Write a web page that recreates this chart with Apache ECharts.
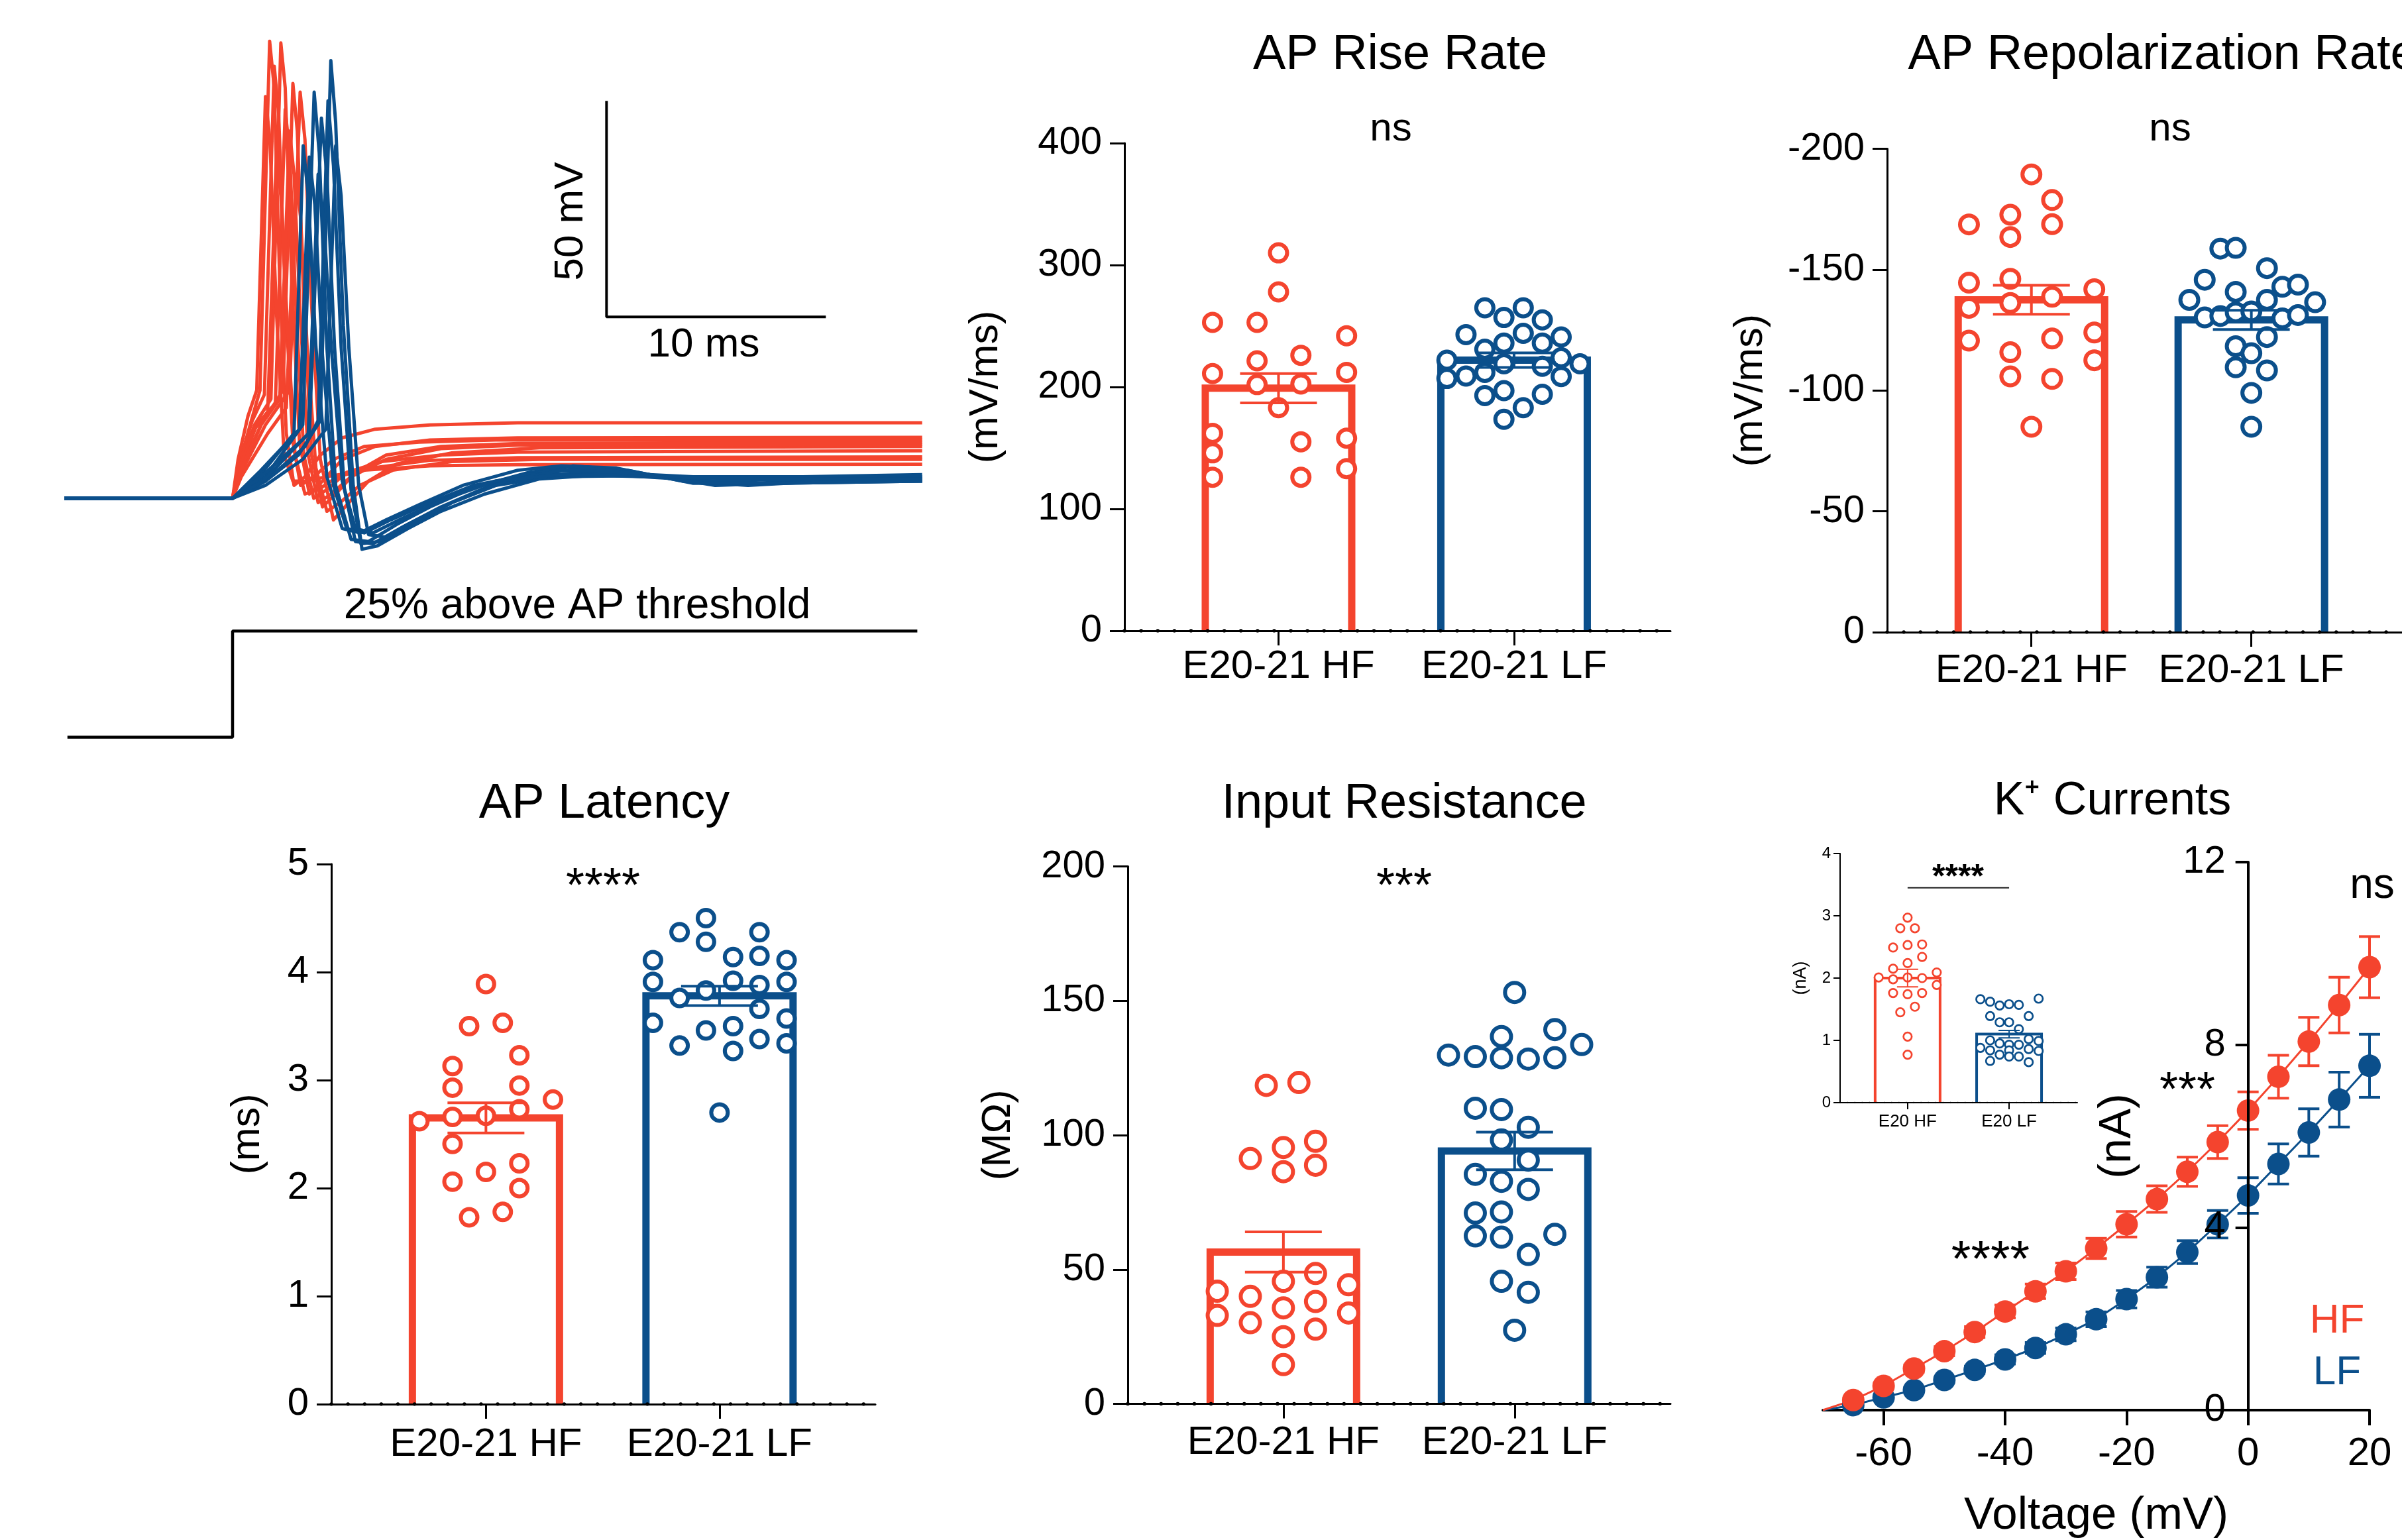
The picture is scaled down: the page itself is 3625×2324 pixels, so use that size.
<!DOCTYPE html>
<html><head><meta charset="utf-8">
<script src="https://cdn.jsdelivr.net/npm/echarts@6/dist/echarts.min.js"></script>
<style>html,body{margin:0;padding:0;background:#fff}#c{width:3625px;height:2324px}</style>
</head><body><div id="c"></div>
<script>
// ---------------- DATA ----------------
const categories = ['E20-21 HF', 'E20-21 LF'];
const insetCategories = ['E20 HF', 'E20 LF'];

// AP Rise Rate (mV/ms); *X = horizontal jitter of each dot within its column
const riseHF  = [310,278,253,253,242,221.5,226,211,212,202,202.5,183,162,146,126,155,158,133,126];
const riseHFX = [0,0,-0.28,-0.091,0.289,-0.091,0.095,-0.28,0.289,-0.091,0.095,0,-0.28,-0.28,-0.28,0.095,0.289,0.289,0.095];
const riseLF  = [265,265,257,255,243,244,241,236,236,231,222,219,224,219,217,209,212,207,208.6,197,193,194,183,173.5];
const riseLFX = [-0.124,0.039,-0.043,0.12,-0.204,0.039,0.2,-0.043,0.12,-0.124,-0.285,-0.043,0.2,0.28,0.12,-0.204,-0.124,-0.285,0.2,-0.043,-0.124,0.12,0.039,-0.043];
const riseMean = [199, 222];
const riseSem  = [12, 6];

// AP Repolarization Rate (mV/ms)
const repHF  = [-189.4,-178.8,-168.7,-172.7,-168.8,-163.5,-144.6,-146.2,-141.9,-138.8,-134.2,-136.2,-120.6,-121.5,-124.0,-115.8,-112.5,-105.8,-104.8,-85.0];
const repHFX = [0,0.094,-0.284,-0.096,0.094,-0.096,-0.284,-0.096,0.286,0.094,-0.284,-0.096,-0.284,0.094,0.286,-0.096,0.286,-0.096,0.094,0];
const repLF  = [-158.7,-159.0,-150.6,-145.8,-142.9,-143.8,-140.8,-137.5,-137.5,-136.5,-130.2,-130.8,-132.3,-132.7,-129.8,-131.2,-122.1,-118.3,-115.4,-109.6,-108.3,-99.0,-85.0];
const repLFX = [-0.141,-0.071,0.071,-0.212,0.141,0.212,-0.071,-0.282,0.071,0.29,-0.212,-0.141,-0.071,0,0.141,0.212,0.071,-0.071,0,-0.071,0.071,0,0];
const repMean = [-137.5, -129.2];
const repSem  = [6, 4];

// AP Latency (ms)
const latHF  = [3.89,3.50,3.53,3.23,3.13,2.93,2.95,2.82,2.62,2.66,2.67,2.73,2.41,2.23,2.15,2.06,2.00,1.73,1.78];
const latHFX = [0,-0.072,0.072,0.143,-0.143,-0.143,0.143,0.287,-0.285,-0.143,0,0.143,-0.143,0.143,0,-0.143,0.143,-0.072,0.072];
const latLF  = [4.50,4.37,4.37,4.28,4.11,4.14,4.15,4.11,3.91,3.92,3.88,3.91,3.76,3.83,3.66,3.53,3.57,3.46,3.50,3.38,3.32,3.34,3.27,2.70];
const latLFX = [-0.058,-0.171,0.171,-0.058,-0.285,0.058,0.171,0.287,-0.285,0.058,0.171,0.287,-0.171,-0.058,0.171,-0.285,0.287,-0.058,0.058,0.171,-0.171,0.287,0.058,0];
const latMean = [2.65, 3.78];
const latSem  = [0.14, 0.09];

// Input Resistance (MOhm)
const resHF  = [118.5,119.6,91.3,95.4,97.7,86.4,88.8,41.9,40.0,45.6,48.5,44.3,32.9,30.2,35.7,38.1,33.8,25.0,27.8,14.6];
const resHFX = [-0.074,0.067,-0.143,0,0.139,0,0.139,-0.286,-0.143,0,0.139,0.282,-0.286,-0.143,0,0.139,0.282,0,0.139,0];
const resLF  = [153.1,136.7,139.3,133.7,129.8,129.2,128.8,128.3,128.8,110.0,109.5,102.9,98.2,90.7,85.4,82.8,79.8,71.0,71.4,62.5,62.0,63.1,55.6,45.6,41.5,27.4];
const resLFX = [0,-0.057,0.174,0.29,-0.286,-0.17,-0.057,0.059,0.174,-0.17,-0.057,0.059,-0.057,0.059,-0.17,-0.057,0.059,-0.17,-0.057,-0.17,-0.057,0.174,0.059,-0.057,0.059,0];
const resMean = [56.5, 94.1];
const resSem  = [7.5, 7];

// K+ currents I-V (nA)
const kVolt  = [-65,-60,-55,-50,-45,-40,-35,-30,-25,-20,-15,-10,-5,0,5,10,15,20];
const kHF    = [0.22,0.53,0.91,1.29,1.71,2.16,2.60,3.04,3.54,4.07,4.62,5.22,5.87,6.56,7.30,8.07,8.87,9.70];
const kHFsem = [0.04,0.06,0.08,0.10,0.12,0.14,0.16,0.18,0.22,0.28,0.29,0.32,0.36,0.41,0.47,0.53,0.61,0.67];
const kLF    = [0.11,0.28,0.44,0.66,0.88,1.11,1.36,1.66,1.99,2.43,2.91,3.46,4.07,4.70,5.39,6.08,6.80,7.54];
const kLFsem = [0.03,0.04,0.05,0.06,0.08,0.10,0.12,0.14,0.16,0.19,0.22,0.25,0.30,0.39,0.44,0.52,0.60,0.69];
const kFitStart = [-70, 0];
const kTicks = [-60,-40,-20,0,20];

// Inset: K+ current at E20 (nA)
const insHF  = [2.97,2.80,2.80,2.49,2.53,2.54,2.34,2.24,2.15,2.01,1.98,2.01,2.00,2.09,1.89,1.76,1.74,1.76,1.54,1.45,1.06,0.77];
const insHFX = [0,-0.072,0.072,-0.143,0,0.143,0.143,0,-0.143,-0.285,-0.143,0,0.143,0.287,0.287,-0.143,0,0.143,0.072,-0.072,0,0];
const insLF  = [1.66,1.62,1.56,1.58,1.57,1.67,1.39,1.39,1.29,1.29,1.18,1.00,0.95,0.93,0.93,1.02,0.99,0.88,0.84,0.84,0.86,0.83,0.77,0.74,0.74,0.67,0.65];
const insLFX = [-0.283,-0.187,-0.093,0,0.096,0.291,-0.187,0.193,-0.093,0,0.096,-0.187,-0.093,0,0.096,0.193,0.291,-0.283,-0.187,0,0.193,0.291,-0.093,0,0.096,-0.187,0.193];
const insMean = [2.0, 1.10];
const insSem  = [0.14, 0.06];
const insBracketY = 3.45;

// Action potential traces [time ms, membrane potential mV]
const redTraces = [
 [[-7.67,-65],[0,-65],[0.3,-57],[0.8,-48],[1.25,-40],[1.69,40.8],[1.9,30],[2.15,-15],[2.45,-50],[2.8,-62],[3.3,-60],[4,-55],[5,-51],[6.5,-49],[9,-48],[13,-47.5],[31.44,-47.5]],
 [[-7.67,-65],[0,-65],[0.3,-58],[1.0,-48],[1.75,-42],[2.2,40.4],[2.4,30],[2.7,-15],[3.05,-52],[3.5,-64],[4.1,-61],[5,-56],[6.5,-53],[9,-51.5],[13,-51],[31.44,-50.9]],
 [[-7.67,-65],[0,-65],[0.35,-59],[1.3,-48],[2.3,-40],[2.75,31],[2.95,20],[3.25,-20],[3.6,-55],[4.1,-67],[4.7,-64],[5.6,-59],[7,-55],[9.5,-53],[13,-52.3],[31.44,-52]],
 [[-7.67,-65],[0,-65],[0.4,-59],[1.5,-48],[2.6,-40],[3.08,29],[3.3,18],[3.6,-20],[4.0,-56],[4.6,-70],[5.3,-66],[6.2,-61],[7.5,-57],[10,-54.5],[14,-53.3],[31.44,-53]],
 [[-7.67,-65],[0,-65],[0.3,-57],[0.9,-47],[1.45,-41],[1.9,35],[2.1,24],[2.4,-18],[2.75,-52],[3.1,-62],[3.7,-60],[4.6,-56],[6,-53],[8.5,-52],[12,-51.5],[31.44,-51.5]],
 [[-7.67,-65],[0,-65],[0.35,-58],[1.1,-48],[1.95,-43],[2.4,25],[2.6,15],[2.9,-22],[3.25,-55],[3.7,-65],[4.3,-63],[5.2,-59],[6.8,-56.5],[9.5,-55],[13,-54.3],[31.44,-54]],
 [[-7.67,-65],[0,-65],[0.3,-58],[1.0,-49],[1.6,-45],[2.0,15],[2.2,5],[2.5,-25],[2.85,-55],[3.3,-64],[3.9,-63],[4.8,-60],[6.3,-58],[9,-56.2],[13,-55.6],[31.44,-55.4]],
 [[-7.67,-65],[0,-65],[0.4,-58],[1.3,-48],[2.15,-42],[2.6,20],[2.8,10],[3.1,-24],[3.45,-55],[3.9,-66],[4.5,-64],[5.4,-60],[7,-56],[9.5,-53.5],[13,-52.7],[31.44,-52.5]],
 [[-7.67,-65],[0,-65],[0.25,-56],[0.7,-46],[1.1,-40],[1.5,28],[1.7,18],[2.0,-22],[2.35,-55],[2.75,-61],[3.3,-61],[4.3,-60],[6,-58.5],[9,-57.5],[13,-57.2],[31.44,-57.1]],
 [[-7.67,-65],[0,-65],[0.4,-60],[1.6,-50],[2.45,-44],[2.9,10],[3.1,0],[3.4,-30],[3.8,-58],[4.3,-68],[4.9,-66],[5.8,-62],[7.3,-58.5],[10,-56.5],[14,-56],[31.44,-56]]
];
const blueTraces = [
 [[-7.67,-65],[0,-65],[1.5,-60],[3.2,-48],[3.72,29],[3.95,15],[4.3,-30],[4.7,-62],[5.4,-74.5],[6.2,-75],[7.5,-71],[9,-67],[11,-62.5],[13.5,-59],[15.5,-57.5],[18,-58.5],[21,-61.5],[24,-61.5],[27,-60.5],[31.44,-60.5]],
 [[-7.67,-65],[0,-65],[1.5,-61],[3,-55],[4.0,-47],[4.48,36.3],[4.7,22],[5.05,-25],[5.5,-62],[5.9,-76.8],[6.6,-76],[8,-72],[9.5,-68],[11.5,-64],[14,-60.5],[17,-59.5],[20,-60],[24,-60.5],[28,-60],[31.44,-60.2]],
 [[-7.67,-65],[0,-65],[1.2,-60],[2.8,-50],[3.22,16.6],[3.45,5],[3.8,-30],[4.3,-60],[5.0,-72],[5.8,-73],[7,-70],[8.5,-66.5],[10.5,-62],[13,-58.5],[15,-57.5],[17.5,-58],[20.5,-61],[23.5,-62],[27,-61],[31.44,-61]],
 [[-7.67,-65],[0,-65],[1.5,-62],[3.2,-56],[4.25,-49],[4.7,16.6],[4.95,5],[5.3,-30],[5.75,-62],[6.2,-73.4],[7,-74],[8.2,-71],[10,-66],[12,-62],[14.5,-60],[18,-59.8],[22,-61],[26,-60.5],[31.44,-60]],
 [[-7.67,-65],[0,-65],[1.3,-60],[3.5,-50],[4.05,23],[4.3,10],[4.65,-30],[5.1,-63],[5.6,-75],[6.4,-75.5],[7.8,-71.5],[9.5,-67],[12,-61.5],[14,-59],[16,-58],[19,-59.5],[22,-62],[25,-61.5],[31.44,-61]],
 [[-7.67,-65],[0,-65],[1.2,-59],[3.05,-49],[3.5,14],[3.75,3],[4.1,-32],[4.6,-62],[5.2,-72],[6,-73],[7.2,-70],[9,-66],[11,-62],[13.5,-59.5],[17,-59],[21,-60],[26,-60],[31.44,-59.5]],
 [[-7.67,-65],[0,-65],[1.5,-61],[3.3,-53],[3.9,-47],[4.35,27],[4.6,12],[4.95,-30],[5.4,-63],[5.85,-75.5],[6.7,-75],[8,-71],[10,-66],[12.5,-61],[15,-58.5],[18,-59],[21.5,-61.5],[25,-61.5],[31.44,-61]],
 [[-7.67,-65],[0,-65],[1.4,-61],[3.45,-50],[3.9,10],[4.15,0],[4.5,-30],[5.0,-61],[5.6,-72],[6.4,-73],[7.6,-70],[9.5,-65.5],[12,-61],[15,-59.5],[19,-60],[24,-60.5],[31.44,-60.5]]
];
// Current step command (schematic, same time axis)
const stimStep = [[-7.53,-120.3],[0,-120.3],[0,-95.7],[31.22,-95.7]];
// Scale bar: 50 mV x 10 ms
const scaleOrigin = [17.05, -23];
const scaleMV = 50, scaleMS = 10;

// ---------------- CHART ----------------
const RED = '#F4442E', BLUE = '#0B4F8B', BLACK = '#000';
const FONT = "'Liberation Sans', Arial, Helvetica, sans-serif";
const grids = [], xAxes = [], yAxes = [], series = [], graphics = [];

function addGrid(left, top, width, height) {
  grids.push({left, top, width, height, containLabel: false});
  return grids.length - 1;
}
function txt(text, x, y, size, o) {
  o = o || {};
  graphics.push({type: 'text', x, y, rotation: o.rotation || 0, z: 100,
    style: {text, x: 0, y: 0, font: (o.weight || 'normal') + ' ' + size + 'px ' + FONT, fill: o.color || BLACK,
      textAlign: 'center', textVerticalAlign: 'middle', align: 'center', verticalAlign: 'middle'}});
}
// open-bottom bar (Prism style): white fill + three stroked sides
function barItem(color, w, lw) {
  return function (params, api) {
    const x = api.value(0), m = api.value(1);
    const pt = api.coord([x, m]), pb = api.coord([x, 0]);
    const top = Math.min(pt[1], pb[1]), bot = Math.max(pt[1], pb[1]);
    const xl = pt[0] - w / 2 + lw / 2, xr = pt[0] + w / 2 - lw / 2;
    return {type: 'group', children: [
      {type: 'rect', shape: {x: xl, y: top, width: xr - xl, height: bot - top}, style: {fill: '#fff'}},
      {type: 'polyline', shape: {points: [[xl, bot], [xl, top], [xr, top], [xr, bot]]},
        style: {fill: null, stroke: color, lineWidth: lw, lineJoin: 'miter'}}
    ]};
  };
}
function errItem(color, cap, lw) {
  return function (params, api) {
    const x = api.value(0), m = api.value(1), s = api.value(2);
    const a = api.coord([x, m - s]), b = api.coord([x, m + s]);
    const st = {stroke: color, lineWidth: lw};
    return {type: 'group', children: [
      {type: 'line', shape: {x1: a[0], y1: a[1], x2: b[0], y2: b[1]}, style: st},
      {type: 'line', shape: {x1: a[0] - cap / 2, y1: a[1], x2: a[0] + cap / 2, y2: a[1]}, style: st},
      {type: 'line', shape: {x1: b[0] - cap / 2, y1: b[1], x2: b[0] + cap / 2, y2: b[1]}, style: st}
    ]};
  };
}

function barPanel(c) {
  const gi = addGrid(c.left, c.top, c.width, c.height);
  const xi = xAxes.length, yi = yAxes.length;
  xAxes.push({type: 'value', gridIndex: gi, min: c.xmin, max: c.xmax, z: 6,
    axisLine: {show: true, onZero: false, lineStyle: {color: BLACK, width: c.axisW}},
    axisTick: {show: true, customValues: [0, 1], length: c.tickLen, lineStyle: {color: BLACK, width: c.axisW}},
    axisLabel: {show: true, customValues: [0, 1], formatter: v => c.cats[Math.round(v)], color: BLACK,
      fontSize: c.catFs, fontFamily: FONT, margin: c.catMargin},
    splitLine: {show: false}});
  yAxes.push({type: 'value', gridIndex: gi, min: c.ymin, max: c.ymax, interval: c.interval, inverse: !!c.inverse,
    name: c.name, nameLocation: 'middle', nameGap: c.nameGap, nameRotate: 90,
    nameTextStyle: {fontSize: c.nameFs, fontFamily: FONT, color: BLACK},
    axisLine: {show: true, onZero: false, lineStyle: {color: BLACK, width: c.axisW}},
    axisTick: {show: true, length: c.tickLen, lineStyle: {color: BLACK, width: c.axisW}},
    axisLabel: {show: true, color: BLACK, fontSize: c.tickFs, fontFamily: FONT, margin: c.tickMargin},
    splitLine: {show: false}});
  const groups = [{v: c.hf, x: c.hfx, col: RED}, {v: c.lf, x: c.lfx, col: BLUE}];
  groups.forEach((g, k) => series.push({type: 'custom', xAxisIndex: xi, yAxisIndex: yi, z: 1, silent: true,
    dimensions: ['x', 'y'], encode: {x: 0, y: 1}, renderItem: barItem(g.col, c.barW, c.barLw), data: [[k, c.mean[k]]]}));
  groups.forEach((g, k) => series.push({type: 'scatter', xAxisIndex: xi, yAxisIndex: yi, z: 3, silent: true,
    symbol: 'circle', symbolSize: c.dotSize,
    itemStyle: {color: '#fff', borderColor: g.col, borderWidth: c.dotLw, opacity: 1},
    data: g.v.map((v, i) => [k + g.x[i], v])}));
  groups.forEach((g, k) => series.push({type: 'custom', xAxisIndex: xi, yAxisIndex: yi, z: 4, silent: true,
    dimensions: ['x', 'y', 's'], encode: {x: 0, y: 1}, renderItem: errItem(g.col, c.cap, c.errLw),
    data: [[k, c.mean[k], c.sem[k]]]}));
  series.push({type: 'line', xAxisIndex: xi, yAxisIndex: yi, z: 7, silent: true, symbol: 'none', showSymbol: false,
    data: [[c.xmin, 0], [c.xmax, 0]],
    lineStyle: {color: BLACK, width: c.baseDotW, type: [0.1, c.baseDotGap], cap: 'round'}});
  return {xi, yi};
}

const common = {cats: categories, axisW: 3, tickLen: 22, catFs: 60, tickFs: 58, tickMargin: 34, nameFs: 61,
  barLw: 11, errLw: 4, cap: 116, dotLw: 6, baseDotW: 5.5, baseDotGap: 25};

// AP Rise Rate
barPanel(Object.assign({}, common, {left: 1697, top: 216, width: 824, height: 736, xmin: -0.654, xmax: 1.664,
  ymin: 0, ymax: 400, interval: 100, name: '(mV/ms)', nameGap: 178, catMargin: 24, barW: 232, dotSize: 26,
  hf: riseHF, hfx: riseHFX, lf: riseLF, lfx: riseLFX, mean: riseMean, sem: riseSem}));
// AP Repolarization Rate
barPanel(Object.assign({}, common, {left: 2848, top: 224.5, width: 824, height: 729.5, xmin: -0.656, xmax: 1.685,
  ymin: -200, ymax: 0, interval: 50, inverse: true, name: '(mV/ms)', nameGap: 175, catMargin: 28, barW: 232, dotSize: 27,
  hf: repHF, hfx: repHFX, lf: repLF, lfx: repLFX, mean: repMean, sem: repSem}));
// AP Latency
barPanel(Object.assign({}, common, {left: 500, top: 1304, width: 821, height: 815, xmin: -0.662, xmax: 1.667,
  ymin: 0, ymax: 5, interval: 1, name: '(ms)', nameGap: 95, catMargin: 31, barW: 233, dotSize: 25,
  hf: latHF, hfx: latHFX, lf: latLF, lfx: latLFX, mean: latMean, sem: latSem}));
// Input Resistance
barPanel(Object.assign({}, common, {left: 1702, top: 1307.5, width: 819, height: 811, xmin: -0.673, xmax: 1.674,
  ymin: 0, ymax: 200, interval: 50, name: '(MΩ)', nameGap: 164, catMargin: 29, barW: 232, dotSize: 29,
  hf: resHF, hfx: resHFX, lf: resLF, lfx: resLFX, mean: resMean, sem: resSem}));
// Inset
const ins = barPanel({cats: insetCategories, left: 2777, top: 1288, width: 358, height: 376, xmin: -0.665, xmax: 1.672,
  ymin: 0, ymax: 4, interval: 1, name: '(nA)', nameGap: 46, nameFs: 27, axisW: 2, tickLen: 10,
  catFs: 26, catMargin: 16, tickFs: 24, tickMargin: 14, barW: 102, barLw: 4, errLw: 2, cap: 32,
  dotSize: 12.5, dotLw: 2.7, baseDotW: 2.6, baseDotGap: 11,
  hf: insHF, hfx: insHFX, lf: insLF, lfx: insLFX, mean: insMean, sem: insSem});
series.push({type: 'line', xAxisIndex: ins.xi, yAxisIndex: ins.yi, z: 5, silent: true, symbol: 'none',
  data: [[0, insBracketY], [1, insBracketY]], lineStyle: {color: '#222', width: 2}});

// K+ currents IV
(function () {
  const left = 2751, width = 825, xmin = -70, xmax = 20;
  const gi = addGrid(left, 1301, width, 827);
  const xi = xAxes.length, yi = yAxes.length;
  // y axis sits at 0 mV
  const yAxisShift = (0 - xmin) / (xmax - xmin) * width;
  xAxes.push({type: 'value', gridIndex: gi, min: xmin, max: xmax,
    name: 'Voltage (mV)', nameLocation: 'middle', nameGap: 125,
    nameTextStyle: {fontSize: 69, fontFamily: FONT, color: BLACK},
    axisLine: {show: true, onZero: false, lineStyle: {color: BLACK, width: 4}},
    axisTick: {show: true, customValues: kTicks, length: 23, lineStyle: {color: BLACK, width: 4}},
    axisLabel: {show: true, customValues: kTicks, color: BLACK, fontSize: 60, fontFamily: FONT, margin: 36},
    splitLine: {show: false}});
  yAxes.push({type: 'value', gridIndex: gi, min: 0, max: 12, interval: 4, z: 10, position: 'left', offset: -yAxisShift,
    name: '(nA)', nameLocation: 'middle', nameGap: 162, nameRotate: 90,
    nameTextStyle: {fontSize: 68, fontFamily: FONT, color: BLACK},
    axisLine: {show: true, onZero: false, lineStyle: {color: BLACK, width: 4}},
    axisTick: {show: true, length: 19, lineStyle: {color: BLACK, width: 4}},
    axisLabel: {show: true, color: BLACK, fontSize: 58, fontFamily: FONT, margin: 34},
    splitLine: {show: false}});
  [[kLF, kLFsem, BLUE], [kHF, kHFsem, RED]].forEach(([vals, sems, col]) => {
    series.push({type: 'line', xAxisIndex: xi, yAxisIndex: yi, z: 2, silent: true, symbol: 'none', showSymbol: false,
      data: [kFitStart].concat(kVolt.map((v, i) => [v, vals[i]])), lineStyle: {color: col, width: 3}});
    series.push({type: 'custom', xAxisIndex: xi, yAxisIndex: yi, z: 3, silent: true,
      dimensions: ['x', 'y', 's'], encode: {x: 0, y: 1}, renderItem: errItem(col, 32, 4),
      data: kVolt.map((v, i) => [v, vals[i], sems[i]])});
    series.push({type: 'scatter', xAxisIndex: xi, yAxisIndex: yi, z: 4, silent: true, symbol: 'circle', symbolSize: 34,
      itemStyle: {color: col, opacity: 1}, data: kVolt.map((v, i) => [v, vals[i]])});
  });
})();

// AP traces
(function () {
  const gi = addGrid(86.2, 2.2, 1324, 1141);
  const xi = xAxes.length, yi = yAxes.length;
  xAxes.push({type: 'value', gridIndex: gi, min: -8, max: 32, show: false});
  yAxes.push({type: 'value', gridIndex: gi, min: -125, max: 50, show: false});
  redTraces.forEach(t => series.push({type: 'line', xAxisIndex: xi, yAxisIndex: yi, z: 2, silent: true, symbol: 'none',
    data: t, lineStyle: {color: RED, width: 5, join: 'round'}}));
  blueTraces.forEach(t => series.push({type: 'line', xAxisIndex: xi, yAxisIndex: yi, z: 3, silent: true, symbol: 'none',
    data: t, lineStyle: {color: BLUE, width: 5, join: 'round'}}));
  series.push({type: 'line', xAxisIndex: xi, yAxisIndex: yi, z: 2, silent: true, symbol: 'none',
    data: stimStep, lineStyle: {color: BLACK, width: 4.5}});
  series.push({type: 'line', xAxisIndex: xi, yAxisIndex: yi, z: 2, silent: true, symbol: 'none',
    data: [[scaleOrigin[0], scaleOrigin[1] + scaleMV], scaleOrigin, [scaleOrigin[0] + scaleMS, scaleOrigin[1]]],
    lineStyle: {color: BLACK, width: 4}});
})();

// Texts
txt('50 mV', 862, 334, 62, {rotation: Math.PI / 2});
txt('10 ms', 1062, 521, 62);
txt('25% above AP threshold', 871, 915, 64);
txt('AP Rise Rate', 2113, 84, 74);
txt('ns', 2099, 195, 60);
txt('AP Repolarization Rate', 3264, 84, 74);
txt('ns', 3275, 195, 60);
txt('AP Latency', 912, 1214, 74);
txt('****', 910, 1340, 72);
txt('Input Resistance', 2119, 1214, 74);
txt('***', 2119, 1340, 72);
txt('K⁺ Currents', 3188, 1210, 70);
txt('****', 2955, 1325, 50, {weight: 'bold'});
txt('ns', 3580, 1337, 64);
txt('***', 3301, 1648, 72);
txt('****', 3004, 1904, 76);
txt('HF', 3527, 1994, 62, {color: RED});
txt('LF', 3527, 2072, 62, {color: BLUE});

const chart = echarts.init(document.getElementById('c'), null, {renderer: 'canvas'});
chart.setOption({animation: false, backgroundColor: '#fff', grid: grids, xAxis: xAxes, yAxis: yAxes,
  series: series, graphic: {elements: graphics}});
</script></body></html>
